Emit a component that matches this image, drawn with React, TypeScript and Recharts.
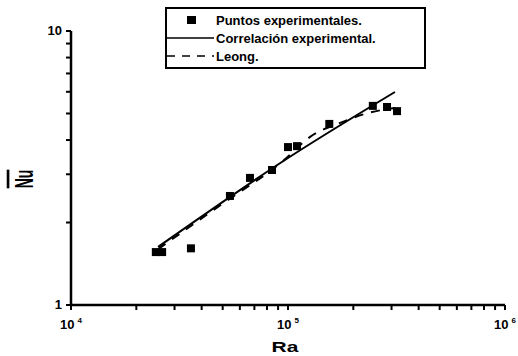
import React from 'react';
import { ComposedChart, Line, Scatter, XAxis, YAxis, Legend } from 'recharts';

// experimental points (Ra, Nu)
const raExp = [24600, 26300, 35700, 54000, 66800, 84400, 100000, 110000, 155000, 246000, 286000, 318000];
const nuExp = [1.56, 1.56, 1.61, 2.5, 2.91, 3.11, 3.77, 3.8, 4.58, 5.33, 5.28, 5.1];

// experimental correlation (solid)
const raCorr = [25200, 100000, 311000];
const nuCorr = [1.63, 3.44, 5.99];

// Leong (dashed)
const raLeong = [25200, 48600, 95900, 126000, 174000, 234000, 311000];
const nuLeong = [1.6, 2.31, 3.38, 4.1, 4.62, 5.02, 5.24];

const xTicks = [1e4, 2e4, 3e4, 4e4, 5e4, 6e4, 7e4, 8e4, 9e4, 1e5, 2e5, 3e5, 4e5, 5e5, 6e5, 7e5, 8e5, 9e5, 1e6];
const yTicks = [1, 2, 3, 4, 5, 6, 7, 8, 9, 10];
const yLabels = [1, 10];

const legendNames = ['Puntos experimentales.', 'Correlación experimental.', 'Leong.'];

const expData = raExp.map((ra, i) => ({ ra, nu: nuExp[i] }));
const corrData = raCorr.map((ra, i) => ({ ra, nu: nuCorr[i] }));
const leongData = raLeong.map((ra, i) => ({ ra, nu: nuLeong[i] }));

const FONT = '"Liberation Sans", Arial, Helvetica, sans-serif';

const isPow10 = (v: number) => {
  const e = Math.log10(v);
  return Math.abs(e - Math.round(e)) < 1e-6;
};

const XTick = (props: any) => {
  const { x, y, payload } = props;
  if (!isPow10(payload.value)) return null;
  const exp = Math.round(Math.log10(payload.value));
  return (
    <text x={x} y={y + 17} textAnchor="middle" fontFamily={FONT} fontWeight="bold" fontSize={13} fill="#000">
      <tspan>10</tspan>
      <tspan dx={3} dy={-6} fontSize={8}>{exp}</tspan>
    </text>
  );
};

const YTick = (props: any) => {
  const { x, y, payload } = props;
  if (!yLabels.includes(payload.value)) return null;
  return (
    <text x={x - 2} y={y + 4} textAnchor="end" fontFamily={FONT} fontWeight="bold" fontSize={13} fill="#000">
      {payload.value}
    </text>
  );
};

const Square = (props: any) => {
  const { cx, cy } = props;
  return <rect x={cx - 4} y={cy - 4} width={8} height={8} fill="#000" />;
};

const LegendBox = () => (
  <div
    style={{
      border: '2px solid #000',
      background: '#fff',
      width: 257,
      height: 56,
      paddingTop: 2,
      boxSizing: 'content-box',
      fontFamily: FONT,
      fontWeight: 'bold',
      fontSize: 13,
      color: '#000',
    }}
  >
    {legendNames.map((name, i) => (
      <div key={name} style={{ display: 'flex', alignItems: 'center', height: 18 }}>
        <svg width={47} height={18} style={{ marginRight: 2 }}>
          {i === 0 && <rect x={20} y={5} width={9} height={8} fill="#000" />}
          {i === 1 && <line x1={0} y1={9} x2={47} y2={9} stroke="#000" strokeWidth={1.5} />}
          {i === 2 && <line x1={0} y1={9} x2={47} y2={9} stroke="#000" strokeWidth={1.5} strokeDasharray="8 7" />}
        </svg>
        <span style={{ whiteSpace: 'nowrap' }}>{name}</span>
      </div>
    ))}
  </div>
);

export default function App() {
  return (
    <div style={{ position: 'absolute', left: 0, top: 0, background: '#fff' }}>
      <ComposedChart width={518} height={356} margin={{ top: 31, right: 13, bottom: 0, left: 0 }}>
        <XAxis
          dataKey="ra"
          type="number"
          scale="log"
          domain={[1e4, 1e6]}
          ticks={xTicks}
          interval={0}
          height={51}
          allowDataOverflow
          axisLine={{ stroke: '#000', strokeWidth: 2.5 }}
          tickLine={{ stroke: '#000', strokeWidth: 2 }}
          tickSize={5}
          tick={<XTick />}
          label={{
            content: () => (
              <text
                transform="translate(285,352) scale(1.4,1)"
                textAnchor="middle"
                fontFamily={FONT}
                fontWeight="bold"
                fontSize={15}
                fill="#000"
              >
                Ra
              </text>
            ),
          }}
        />
        <YAxis
          type="number"
          scale="log"
          domain={[1, 10]}
          ticks={yTicks}
          interval={0}
          width={71}
          allowDataOverflow
          axisLine={{ stroke: '#000', strokeWidth: 2.5 }}
          tickLine={{ stroke: '#000', strokeWidth: 2 }}
          tickSize={5}
          tick={<YTick />}
          label={{
            content: () => (
              <text
                transform="translate(33,179) rotate(-90) scale(1,1.9)"
                textAnchor="middle"
                fontFamily={FONT}
                fontWeight="bold"
                fontSize={14}
                fill="#000"
                style={{ textDecoration: 'overline' }}
              >
                Nu
              </text>
            ),
          }}
        />
        <Legend
          layout="horizontal"
          verticalAlign="middle"
          align="center"
          wrapperStyle={{ left: 165, top: 7, width: 'auto' }}
          content={<LegendBox />}
        />
        <Line
          data={corrData}
          dataKey="nu"
          name={legendNames[1]}
          type="monotone"
          stroke="#000"
          strokeWidth={2}
          dot={false}
          activeDot={false}
          isAnimationActive={false}
        />
        <Line
          data={leongData}
          dataKey="nu"
          name={legendNames[2]}
          type="monotone"
          stroke="#000"
          strokeWidth={2}
          strokeDasharray="9 8"
          dot={false}
          activeDot={false}
          isAnimationActive={false}
        />
        <Scatter
          data={expData}
          dataKey="nu"
          name={legendNames[0]}
          shape={<Square />}
          isAnimationActive={false}
        />
      </ComposedChart>
    </div>
  );
}
